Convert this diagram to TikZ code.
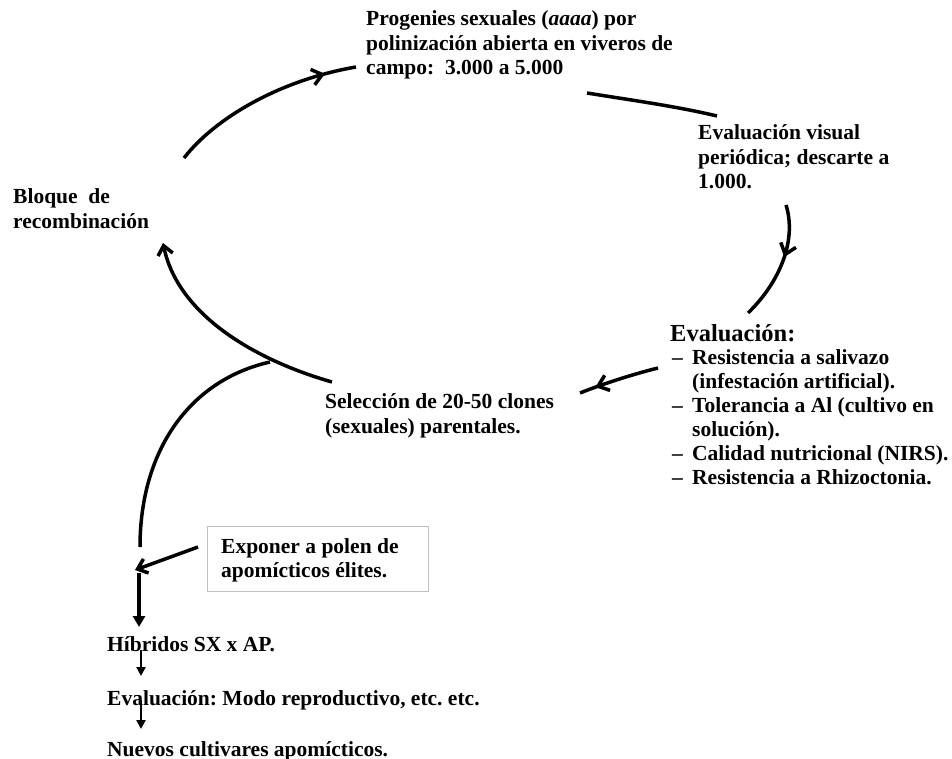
\documentclass[tikz,border=0pt]{standalone}
\usepackage{fontspec}
\setmainfont{Liberation Serif}
\usetikzlibrary{arrows.meta,decorations.markings}
\definecolor{boxgray}{RGB}{192,192,192}
\begin{document}
\begin{tikzpicture}[x=1pt,y=-1pt,
  txt/.style={font=\fontsize{21.5}{24.5}\selectfont\bfseries\frenchspacing, align=left, anchor=base west, inner sep=0pt},
  arcline/.style={line width=3.5pt},
  endtip/.style={-{Straight Barb[length=9pt,width=15pt]}},
  midtip/.style={postaction={decorate},decoration={markings,mark=at position #1 with {\arrow{Straight Barb[length=10pt,width=16pt]}}}}
]
\useasboundingbox (0,0) rectangle (952,759);

% texts (anchor = baseline of last line)
\node[txt] (prog) at (366,75) {Progenies sexuales (\textit{aaaa}) por\\polinización abierta en viveros de\\campo:\ \ 3.000 a 5.000};
\node[txt] (evis) at (698,189) {Evaluación visual\\periódica; descarte a\\1.000.};
\node[txt] (bloque) at (13,228.5) {Bloque\ \ de\\recombinación};
\node[txt, font=\fontsize{24.5}{28}\selectfont\bfseries] (evalh) at (670,341) {Evaluación:};
\node[txt, font=\fontsize{21.5}{24}\selectfont\bfseries\frenchspacing] (lista) at (672,484) {\makebox[20pt][l]{–}Resistencia a salivazo\\\hspace*{20pt}(infestación artificial).\\\makebox[20pt][l]{–}Tolerancia a Al (cultivo en\\\hspace*{20pt}solución).\\\makebox[20pt][l]{–}Calidad nutricional (NIRS).\\\makebox[20pt][l]{–}Resistencia a Rhizoctonia.};
\node[txt] (selec) at (325,433) {Selección de 20-50 clones\\(sexuales) parentales.};
\node[draw=boxgray, line width=1.3pt, minimum width=221pt, minimum height=65pt, anchor=north west, inner sep=0pt] (box) at (207,526) {};
\node[txt] (expo) at (221,577.5) {Exponer a polen de\\apomícticos élites.};
\node[txt] (hib) at (107,651) {Híbridos SX x AP.};
\node[txt] (evmod) at (107,705) {Evaluación: Modo reproductivo, etc. etc.};
\node[txt] (nuevos) at (107,756) {Nuevos cultivares apomícticos.};

% arc end points
\coordinate (a1s) at (184,158);
\coordinate (a1e) at (356,67);
\coordinate (a2s) at (587,93);
\coordinate (a2e) at (717,116);
\coordinate (a3s) at (786,205);
\coordinate (a3e) at (748,313);
\coordinate (a4s) at (658,368);
\coordinate (a4e) at (580,393);
\coordinate (a5s) at (332,382);
\coordinate (a5e) at (163,243);
\coordinate (jct) at (270,362);
\coordinate (a6e) at (140,547);
\coordinate (a7s) at (198,547);
\coordinate (a7e) at (135,570);
\coordinate (a8s) at (139,573);
\coordinate (a8e) at (139,627);
\coordinate (a9s) at (141,650);
\coordinate (a9e) at (141,676);
\coordinate (a10s) at (141,700);
\coordinate (a10e) at (141,729);

% cycle arcs
\draw[arcline, midtip=0.84] (a1s) .. controls (215,118) and (280,80) .. (a1e);
\draw[arcline] (a2s) .. controls (630,100) and (675,106) .. (a2e);
\draw[arcline, midtip=0.44] (a3s) .. controls (797,240) and (780,282) .. (a3e);
\draw[arcline, midtip=0.8] (a4s) .. controls (630,375) and (600,385) .. (a4e);
\draw[arcline, endtip] (a5s) .. controls (255,360) and (178,315) .. (a5e);
\draw[arcline] (jct) .. controls (190,380) and (140,450) .. (a6e);

% lower arrows
\draw[arcline, endtip] (a7s) -- (a7e);
\draw[arcline, -{Triangle[length=11pt,width=12pt]}] (a8s) -- (a8e);
\draw[line width=2.2pt, -{Triangle[length=9pt,width=9pt]}] (a9s) -- (a9e);
\draw[line width=2.2pt, -{Triangle[length=9pt,width=9pt]}] (a10s) -- (a10e);
\end{tikzpicture}
\end{document}
